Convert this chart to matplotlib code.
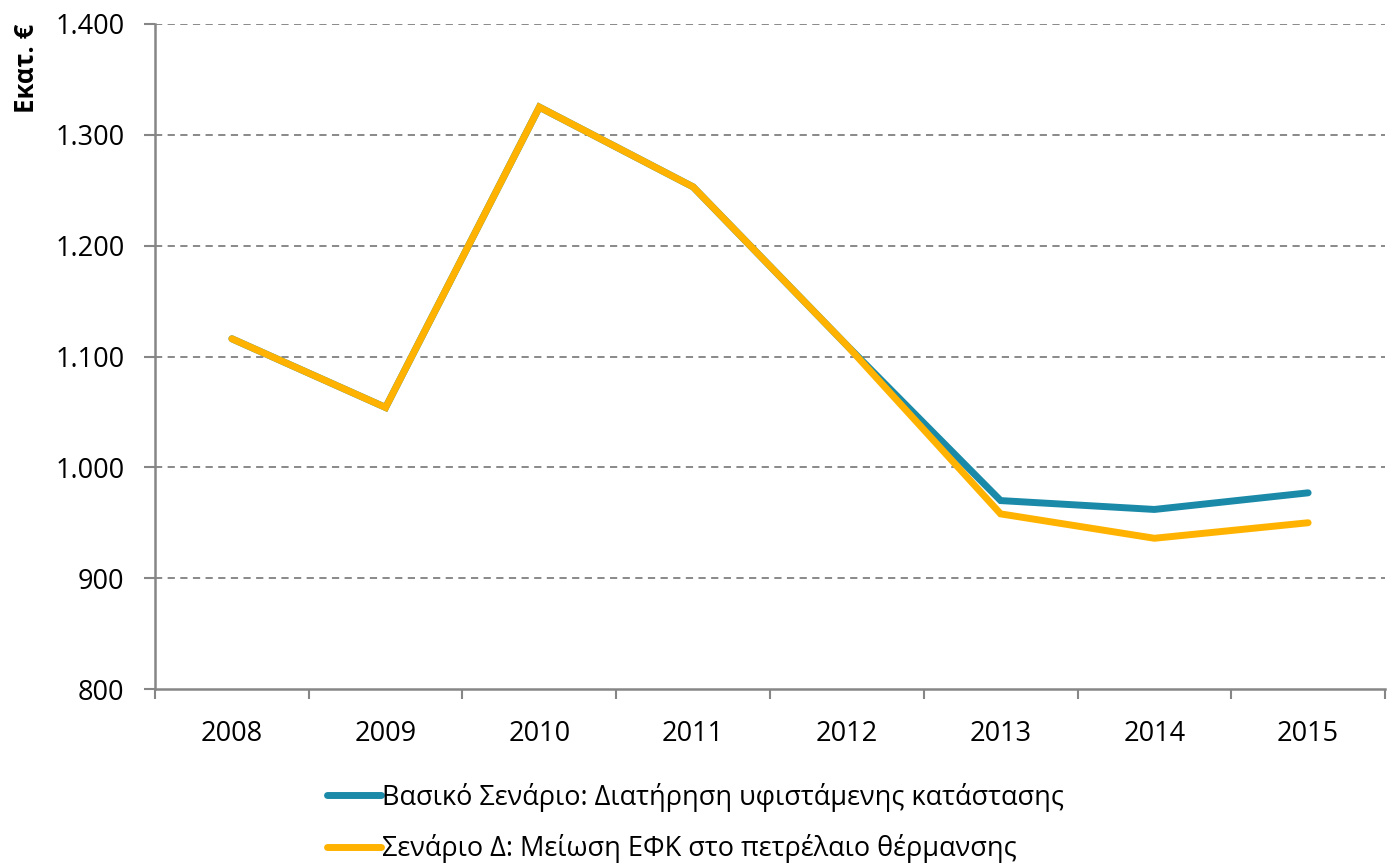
import matplotlib
matplotlib.use("Agg")
import matplotlib.pyplot as plt
from matplotlib.ticker import FuncFormatter

years = ["2008", "2009", "2010", "2011", "2012", "2013", "2014", "2015"]
baseline = [1116, 1054, 1325, 1253, 1110, 970, 962, 977]
scenario_d = [1116, 1054, 1325, 1253, 1110, 958, 936, 950]
labels = ["Βασικό Σενάριο: Διατήρηση υφιστάμενης κατάστασης",
          "Σενάριο Δ: Μείωση ΕΦΚ στο πετρέλαιο θέρμανσης"]
colors = ["#1A8AA8", "#FFB300"]

plt.rcParams['font.family'] = ['Open Sans', 'DejaVu Sans']

fig = plt.figure(figsize=(13.87, 8.64), dpi=100)
ax = fig.add_axes([155/1387, 1-689/864, 1230/1387, 665/864])

x = list(range(len(years)))
ax.plot(x, baseline, color=colors[0], lw=5, solid_capstyle='round',
        solid_joinstyle='miter', label=labels[0], zorder=3)
ax.plot(x, scenario_d, color=colors[1], lw=5, solid_capstyle='round',
        solid_joinstyle='miter', label=labels[1], zorder=4)

ax.set_xlim(-0.5, len(years) - 0.5)
ax.set_ylim(800, 1400)
ax.set_yticks(range(800, 1401, 100))
ax.yaxis.set_major_formatter(FuncFormatter(lambda v, p: f"{int(v):,}".replace(",", ".")))

# category boundaries as ticks, labels centered on each category
ax.set_xticks([i - 0.5 for i in range(len(years) + 1)])
ax.set_xticklabels([])
ax.set_xticks(x, minor=True)
ax.set_xticklabels(years, minor=True)
ax.tick_params(axis='x', which='minor', length=0, pad=22, labelsize=19.5)
ax.tick_params(axis='x', which='major', length=7.5, width=1.5, color='#868686', direction='out')
ax.tick_params(axis='y', length=8, width=1.5, color='#868686', direction='out',
               labelsize=19.5, pad=14)

for y in range(900, 1401, 100):
    ax.axhline(y, color='#808080', lw=1.3, ls=(0, (4, 3)), zorder=1)

for s in ['top', 'right']:
    ax.spines[s].set_visible(False)
for s in ['left', 'bottom']:
    ax.spines[s].set_color('#868686')
    ax.spines[s].set_linewidth(1.8)

fig.text(27/1387, 1-24/864, "Εκατ. €", rotation=90, ha='center', va='top',
         fontsize=18.5, fontweight='bold')

fig.legend(loc='upper left', bbox_to_anchor=(316/1387, 1-772/864), frameon=False,
           fontsize=19.5, handlelength=2.0, handletextpad=0.05, labelspacing=0.82,
           borderaxespad=0)

fig.savefig("out.png", dpi=100)
